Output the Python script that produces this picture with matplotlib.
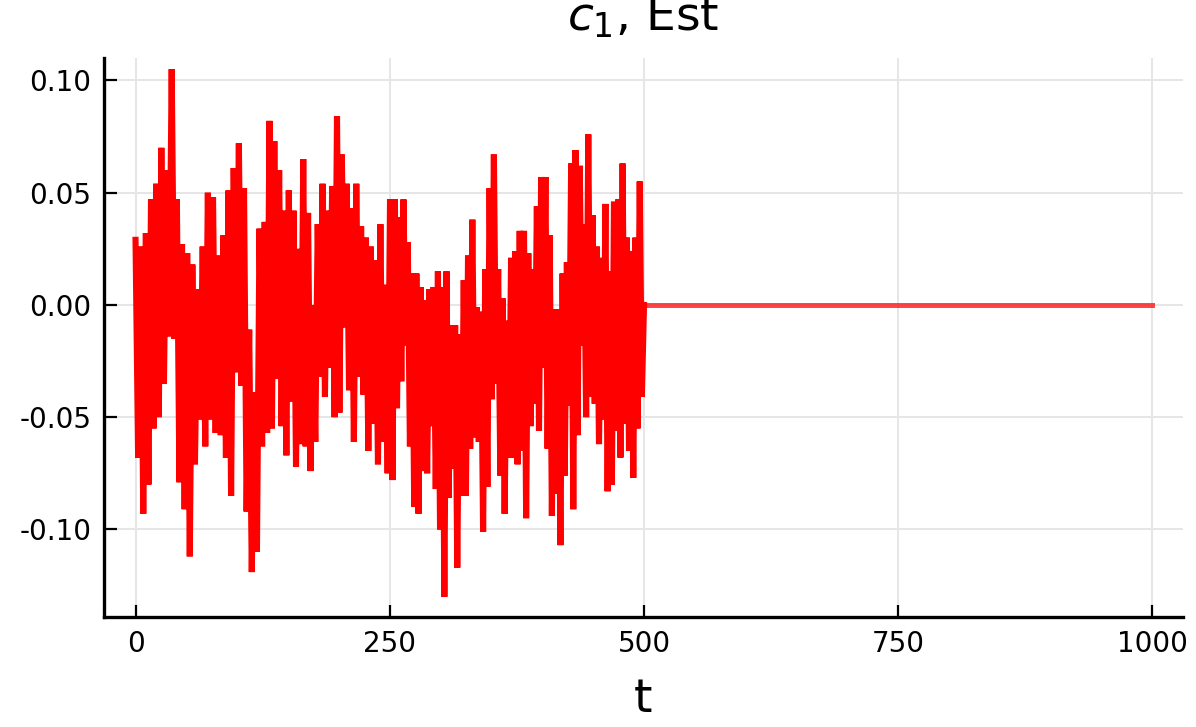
import numpy as np
import matplotlib.pyplot as plt

# estimated c_1 (as (high, low) swings), t in 0..500
block_edges = [0, 127, 255, 382, 500]
swings_1 = [(0.029, -0.068), (0.026, -0.093), (0.032, -0.080), (0.047, -0.055), (0.054, -0.050),
            (0.070, -0.035), (0.060, -0.014), (0.105, -0.015), (0.047, -0.079), (0.027, -0.091),
            (0.023, -0.112), (0.018, -0.071), (0.007, -0.051), (0.026, -0.063), (0.050, -0.051),
            (0.048, -0.057), (0.022, -0.058), (0.031, -0.068), (0.051, -0.085), (0.061, -0.030),
            (0.072, -0.036), (0.052, -0.092), (-0.011, -0.119), (-0.039, -0.110), (0.034, -0.063)]
swings_2 = [(0.037, -0.057), (0.082, -0.055), (0.073, -0.033), (0.060, -0.054), (0.042, -0.067),
            (0.051, -0.043), (0.042, -0.072), (0.025, -0.062), (0.065, -0.063), (0.041, -0.074),
            (0.000, -0.061), (0.036, -0.032), (0.054, -0.041), (0.042, -0.028), (0.053, -0.050),
            (0.084, -0.048), (0.067, -0.010), (0.054, -0.038), (0.043, -0.061), (0.054, -0.032),
            (0.035, -0.040), (0.030, -0.065), (0.026, -0.053), (0.020, -0.071), (0.036, -0.061),
            (0.009, -0.075), (0.047, -0.078)]
swings_3 = [(0.047, -0.046), (0.039, -0.034), (0.047, -0.018), (0.028, -0.063), (0.014, -0.090),
            (0.014, -0.093), (0.008, -0.074), (0.002, -0.075), (0.007, -0.054), (0.008, -0.082),
            (0.015, -0.100), (0.008, -0.130), (0.015, -0.086), (-0.009, -0.073), (-0.009, -0.117),
            (-0.013, -0.085), (0.011, -0.085), (0.022, -0.064), (0.038, -0.059), (-0.001, -0.061),
            (-0.003, -0.101), (0.016, -0.081), (0.052, -0.042), (0.067, -0.035), (0.016, -0.076),
            (0.003, -0.093), (-0.007, -0.068), (0.021, -0.068), (0.024, -0.071), (0.033, -0.065)]
swings_4 = [(0.033, -0.095), (0.023, -0.054), (0.016, -0.044), (0.044, -0.056), (0.057, -0.028),
            (0.057, -0.064), (0.031, -0.094), (-0.002, -0.084), (-0.002, -0.107), (0.014, -0.076),
            (0.019, -0.045), (0.063, -0.091), (0.069, -0.058), (0.062, -0.018), (0.036, -0.050),
            (0.076, -0.041), (0.040, -0.044), (0.026, -0.062), (0.021, -0.051), (0.045, -0.083),
            (0.015, -0.080), (0.046, -0.056), (0.047, -0.068), (0.063, -0.053), (0.030, -0.065),
            (0.024, -0.077), (0.030, -0.055), (0.055, -0.041)]
# after t=500 the estimate is zero
flat_t = [500, 1000]
flat_c = [0.0, 0.0]

xticks = [0, 250, 500, 750, 1000]
yticks = [-0.10, -0.05, 0.00, 0.05, 0.10]

t, c = [], []
for k, sw in enumerate([swings_1, swings_2, swings_3, swings_4]):
    vals = np.array(sw).ravel()
    tt = np.linspace(block_edges[k], block_edges[k + 1], len(vals), endpoint=False)
    t.extend(tt)
    c.extend(vals)
t = np.array(t + [flat_t[0]])
c = np.array(c + [flat_c[0]])

fig = plt.figure(figsize=(11.96, 7.27), dpi=100)
ax = fig.add_axes([104 / 1196, 1 - 617 / 727, (1183 - 104) / 1196, (617 - 58) / 727])

# the dense noisy part overlaps itself into solid red; the flat tail stays translucent
ax.plot(t, c, color='red', lw=4.4, solid_joinstyle='miter')
ax.plot(flat_t, flat_c, color='red', alpha=0.72, lw=3.6)

ax.set_xlim(-31, 1030)
ax.set_ylim(-0.139, 0.110)
ax.set_xticks(xticks)
ax.set_xticklabels([str(v) for v in xticks])
ax.set_yticks(yticks)
ax.set_yticklabels(['%.2f' % v for v in yticks])
ax.grid(True, color='#e6e6e6', lw=1.4)
ax.set_axisbelow(True)

for s in ['top', 'right']:
    ax.spines[s].set_visible(False)
for s in ['left', 'bottom']:
    ax.spines[s].set_linewidth(2.4)
ax.tick_params(direction='in', length=9, width=1.6, labelsize=20, colors='black', pad=9)

fig.text(0.538, 1 - 712 / 727, 't', ha='center', va='baseline', fontsize=34)
fig.text(0.538, 1 - 31 / 727, r'$c_1$, Est', ha='center', va='baseline', fontsize=34)

plt.savefig('out.png', dpi=100)
